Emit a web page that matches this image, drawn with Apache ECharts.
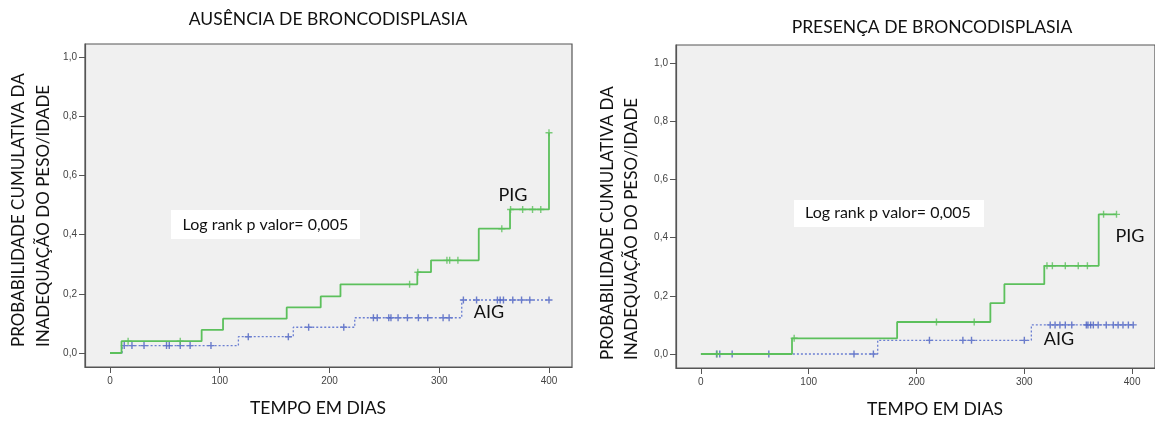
<!DOCTYPE html>
<html>
<head>
<meta charset="utf-8">
<script src="https://cdn.jsdelivr.net/npm/echarts@6/dist/echarts.min.js"></script>
<style>
html,body{margin:0;padding:0;background:#fff;}
#chart{width:1155px;height:421px;}
</style>
</head>
<body>
<div id="chart"></div>
<script>
// ---- Data (Kaplan-Meier style cumulative curves) ----
const xTicks = [0, 100, 200, 300, 400];
const yTicks = [0, 0.2, 0.4, 0.6, 0.8, 1.0];

// Left panel: AUSÊNCIA DE BRONCODISPLASIA
const leftPigTimes = [0, 10.5, 83.5, 103, 161, 192, 210, 280, 292.5, 336, 364.5, 400];
const leftPigVals  = [0, 0.04, 0.078, 0.116, 0.154, 0.191, 0.232, 0.273, 0.313, 0.42, 0.485, 0.744];
const leftPigCens  = [16.5, 64, 273, 280.5, 307, 309.5, 317, 357, 365, 376, 385, 392.5, 400];
const leftAigTimes = [0, 11, 117, 167, 223, 320.5, 400];
const leftAigVals  = [0, 0.025, 0.055, 0.087, 0.119, 0.179, 0.179];
const leftAigCens  = [13, 20, 31, 51.5, 54, 64, 73, 92, 126, 162.5, 181, 213, 240, 243.5, 254, 256, 262.5, 271, 281, 289.5, 303.5, 309, 322, 334, 353, 355.5, 358.5, 367, 375, 382.5, 400];

// Right panel: PRESENÇA DE BRONCODISPLASIA
const rightPigTimes = [0, 84.5, 182, 268.5, 281.5, 318.5, 369, 385.5];
const rightPigVals  = [0, 0.054, 0.11, 0.175, 0.24, 0.303, 0.48, 0.48];
const rightPigCens  = [15, 86.5, 218.5, 253.5, 321, 326, 338, 350, 358.5, 373.5, 385.5];
const rightAigTimes = [0, 164, 306.5, 401];
const rightAigVals  = [0, 0.047, 0.1, 0.1];
const rightAigCens  = [14.5, 17.5, 29, 63, 142, 160, 212, 243, 251, 300, 324, 328.5, 333, 338, 344, 357.5, 359, 361.5, 364, 368.5, 376, 382.5, 387, 391.5, 396.5, 401];

const titles = ['AUSÊNCIA DE BRONCODISPLASIA', 'PRESENÇA DE BRONCODISPLASIA'];
const yTitle1 = 'PROBABILIDADE CUMULATIVA DA';
const yTitle2 = 'INADEQUAÇÃO DO PESO/IDADE';
const xTitle = 'TEMPO EM DIAS';
const logRank = 'Log rank p valor= 0,005';
const groupNames = ['PIG', 'AIG'];

// ---- helpers ----
function pairs(t, v) { return t.map((x, i) => [x, v[i]]); }
function stepValue(times, vals, t) {
  let v = vals[0];
  for (let i = 0; i < times.length; i++) if (times[i] <= t) v = vals[i];
  return v;
}
function censPts(cens, times, vals) { return cens.map(t => [t, stepValue(times, vals, t)]); }

const GREEN = '#5cc05c';
const BLUE = '#6b7fd2';
const BLUE_MARK = '#4a5fbf';
const PLUS = 'path://M4,0H6V4H10V6H6V10H4V6H0V4H4Z';
const FONT = 'Lato';

function makeX(idx, min, max) {
  return {
    type: 'value', gridIndex: idx, min: min, max: max,
    axisLine: { show: true, onZero: false, lineStyle: { color: '#555', width: 1.2 } },
    axisTick: { show: true, length: 6, lineStyle: { color: '#555' }, customValues: xTicks },
    axisLabel: { color: '#444', fontSize: 10, fontFamily: 'Liberation Sans', margin: 9, customValues: xTicks },
    splitLine: { show: false }
  };
}
function makeY(idx, min, max) {
  return {
    type: 'value', gridIndex: idx, min: min, max: max,
    axisLine: { show: true, onZero: false, lineStyle: { color: '#555', width: 1.2 } },
    axisTick: { show: true, length: 6, lineStyle: { color: '#555' }, customValues: yTicks },
    axisLabel: { color: '#444', fontSize: 10, fontFamily: 'Liberation Sans', margin: 8, customValues: yTicks,
      formatter: v => v.toFixed(1).replace('.', ',') },
    splitLine: { show: false }
  };
}
function stepSeries(idx, times, vals, color, dotted) {
  return {
    type: 'line', xAxisIndex: idx, yAxisIndex: idx, step: 'end', symbol: 'none',
    data: pairs(times, vals),
    lineStyle: { color: color, width: dotted ? 1.3 : 1.8, type: dotted ? [2, 2] : 'solid' },
    animation: false, silent: true
  };
}
function censSeries(idx, cens, times, vals, color) {
  return {
    type: 'scatter', xAxisIndex: idx, yAxisIndex: idx, symbol: PLUS, symbolSize: 7,
    data: censPts(cens, times, vals), itemStyle: { color: color },
    animation: false, silent: true
  };
}

function txt(x, y, text, size) {
  return {
    type: 'text', x: x, y: y,
    style: { text: text, fill: '#111', font: size + 'px ' + FONT, textAlign: 'center', textVerticalAlign: 'middle' }
  };
}
function vtxt(x, y, text) {
  return { type: 'text', x: x, y: y, rotation: Math.PI / 2,
    style: { text: text, fill: '#111', font: '17px ' + FONT, textAlign: 'left', textVerticalAlign: 'middle' } };
}

const chart = echarts.init(document.getElementById('chart'), null, { renderer: 'canvas' });
chart.setOption({
  backgroundColor: '#ffffff',
  animation: false,
  grid: [
    { left: 85, top: 44, width: 487, height: 323, show: true, backgroundColor: '#f0f0f0', borderColor: '#555', borderWidth: 1.2 },
    { left: 676, top: 45, width: 481, height: 323, show: true, backgroundColor: '#f0f0f0', borderColor: '#555', borderWidth: 1.2 }
  ],
  xAxis: [makeX(0, -22.78, 420.96), makeX(1, -23.1, 421.2)],
  yAxis: [makeY(0, -0.0473, 1.0439), makeY(1, -0.0481, 1.0619)],
  series: [
    stepSeries(0, leftAigTimes, leftAigVals, BLUE, true),
    censSeries(0, leftAigCens, leftAigTimes, leftAigVals, BLUE_MARK),
    stepSeries(0, leftPigTimes, leftPigVals, GREEN, false),
    censSeries(0, leftPigCens, leftPigTimes, leftPigVals, GREEN),
    stepSeries(1, rightAigTimes, rightAigVals, BLUE, true),
    censSeries(1, rightAigCens, rightAigTimes, rightAigVals, BLUE_MARK),
    stepSeries(1, rightPigTimes, rightPigVals, GREEN, false),
    censSeries(1, rightPigCens, rightPigTimes, rightPigVals, GREEN)
  ],
  graphic: [
    txt(328, 19, titles[0], 17.5),
    txt(932, 27, titles[1], 17.5),
    txt(318, 408, xTitle, 17.5),
    txt(935, 409, xTitle, 17.5),
    vtxt(18.5, 347, yTitle1),
    vtxt(43.5, 347, yTitle2),
    vtxt(607.5, 360, yTitle1),
    vtxt(631.5, 360, yTitle2),
    { type: 'rect', shape: { x: 171, y: 210, width: 189, height: 29 }, style: { fill: '#ffffff' } },
    txt(265.5, 225, logRank, 16),
    { type: 'rect', shape: { x: 794, y: 200, width: 190, height: 27 }, style: { fill: '#ffffff' } },
    txt(888, 213, logRank, 16),
    txt(513, 195, groupNames[0], 18),
    txt(489, 312, groupNames[1], 18),
    txt(1130, 236, groupNames[0], 18),
    txt(1059, 339, groupNames[1], 18)
  ]
});
</script>
</body>
</html>
